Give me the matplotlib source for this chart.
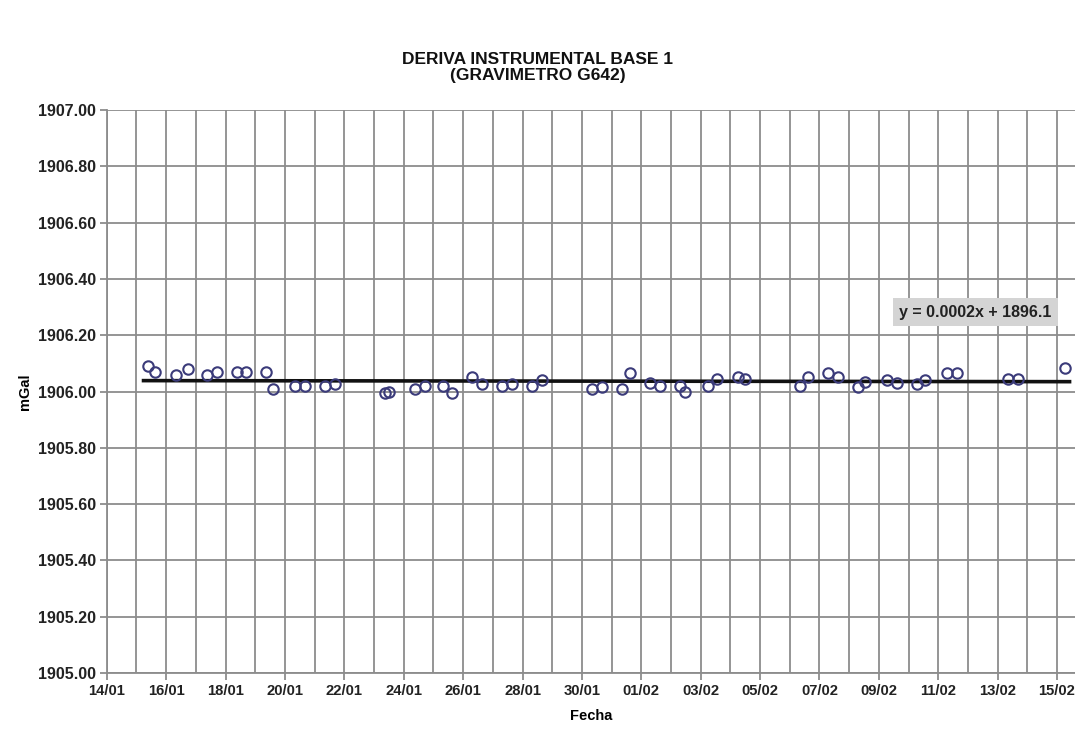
import matplotlib
matplotlib.use("Agg")
import matplotlib.pyplot as plt
import matplotlib.dates as mdates
import numpy as np
import pandas as pd

plt.rcParams['font.family'] = ['Liberation Sans', 'DejaVu Sans']

fechas = [
    "2010-01-15 09:20", "2010-01-15 15:00", "2010-01-16 08:00", "2010-01-16 17:45",
    "2010-01-17 09:00", "2010-01-17 17:00", "2010-01-18 09:20", "2010-01-18 16:30",
    "2010-01-19 08:40", "2010-01-19 14:20", "2010-01-20 08:10", "2010-01-20 16:15",
    "2010-01-21 08:20", "2010-01-21 16:30", "2010-01-23 08:50", "2010-01-23 12:10",
    "2010-01-24 09:10", "2010-01-24 17:15", "2010-01-25 07:45", "2010-01-25 15:00",
    "2010-01-26 07:10", "2010-01-26 15:20", "2010-01-27 07:25", "2010-01-27 15:35",
    "2010-01-28 07:40", "2010-01-28 15:50", "2010-01-30 08:10", "2010-01-30 16:20",
    "2010-01-31 08:25", "2010-01-31 14:50", "2010-02-01 07:00", "2010-02-01 15:10",
    "2010-02-02 07:25", "2010-02-02 11:20", "2010-02-03 06:00", "2010-02-03 13:10",
    "2010-02-04 06:15", "2010-02-04 11:45", "2010-02-06 08:10", "2010-02-06 14:40",
    "2010-02-07 06:45", "2010-02-07 14:55", "2010-02-08 07:00", "2010-02-08 12:40",
    "2010-02-09 06:30", "2010-02-09 14:40", "2010-02-10 06:40", "2010-02-10 13:10",
    "2010-02-11 07:00", "2010-02-11 15:10", "2010-02-13 08:25", "2010-02-13 16:20",
    "2010-02-15 06:30",
]
lecturas = [
    1906.09, 1906.07, 1906.06, 1906.08,
    1906.06, 1906.07, 1906.07, 1906.07,
    1906.07, 1906.01, 1906.02, 1906.02,
    1906.02, 1906.025, 1905.995, 1906.00,
    1906.01, 1906.02, 1906.02, 1905.995,
    1906.05, 1906.025, 1906.02, 1906.025,
    1906.02, 1906.04, 1906.01, 1906.015,
    1906.01, 1906.065, 1906.03, 1906.02,
    1906.02, 1906.00, 1906.02, 1906.045,
    1906.05, 1906.045, 1906.02, 1906.05,
    1906.065, 1906.05, 1906.015, 1906.035,
    1906.04, 1906.03, 1906.025, 1906.04,
    1906.065, 1906.065, 1906.045, 1906.045,
    1906.085,
]
titulo = "DERIVA INSTRUMENTAL BASE 1\n(GRAVIMETRO G642)"
ecuacion = "y = 0.0002x + 1896.1"
inicio_eje = "2010-01-14"
fin_eje = "2010-02-15 14:30"

x = pd.to_datetime(fechas)
y = np.array(lecturas)
xn = mdates.date2num(x)

fig = plt.figure(figsize=(10.75, 7.31), dpi=100)
ax = fig.add_axes([0.0993, 0.0793, 0.9007, 0.7702])

grid_c = "#8c8c8c"
ax.set_xlim(mdates.date2num(pd.Timestamp(inicio_eje)), mdates.date2num(pd.Timestamp(fin_eje)))
ax.set_ylim(1905.0, 1907.0)
major_days = pd.date_range(inicio_eje, fin_eje, freq="2D")
minor_days = pd.date_range(inicio_eje, fin_eje, freq="1D")
ax.set_xticks(mdates.date2num(major_days))
ax.set_xticks(mdates.date2num(minor_days), minor=True)
ax.xaxis.set_major_formatter(mdates.DateFormatter("%d/%m"))
ax.set_yticks(np.arange(1905.0, 1907.01, 0.2))
ax.yaxis.set_major_formatter(matplotlib.ticker.FormatStrFormatter("%.2f"))
ax.grid(True, which="both", axis="x", color=grid_c, lw=1.3)
ax.grid(True, which="major", axis="y", color=grid_c, lw=1.3)
ax.set_axisbelow(True)
for s in ["top", "right"]:
    ax.spines[s].set_visible(False)
for s in ["left", "bottom"]:
    ax.spines[s].set_color(grid_c)
    ax.spines[s].set_linewidth(1.3)
ax.tick_params(axis="both", which="major", length=5, color=grid_c, width=1.3, pad=3)
ax.tick_params(axis="y", labelsize=11.5)
ax.tick_params(axis="x", labelsize=10.6)
ax.tick_params(axis="x", which="minor", length=0)
for lbl in ax.get_xticklabels() + ax.get_yticklabels():
    lbl.set_fontweight("bold")
    lbl.set_color("#222222")

# trend line
coef = np.polyfit(xn, y, 1)
xl = np.array([xn.min() - 0.15, xn.max() + 0.15])
ax.plot(xl, np.polyval(coef, xl), color="#111111", lw=2.6, zorder=3)

ax.plot(xn, y, ls="none", marker="o", ms=7.5, mfc="none", mec="#3b3b7a", mew=1.5, zorder=4)

ax.text(0.897, 0.641, ecuacion, transform=ax.transAxes, ha="center", va="center",
        fontsize=11.5, fontweight="bold", color="#222222",
        bbox=dict(boxstyle="square,pad=0.4", fc="#d4d4d4", ec="none"))

fig.text(0.5, 0.908, titulo, ha="center", va="center", fontsize=12.5, fontweight="bold",
         linespacing=1.05, color="#111111")
ax.set_xlabel("Fecha", fontsize=10.5, fontweight="bold", labelpad=8)
ax.set_ylabel("mGal", fontsize=10.5, fontweight="bold", labelpad=4)

fig.savefig("out.png", dpi=100)
